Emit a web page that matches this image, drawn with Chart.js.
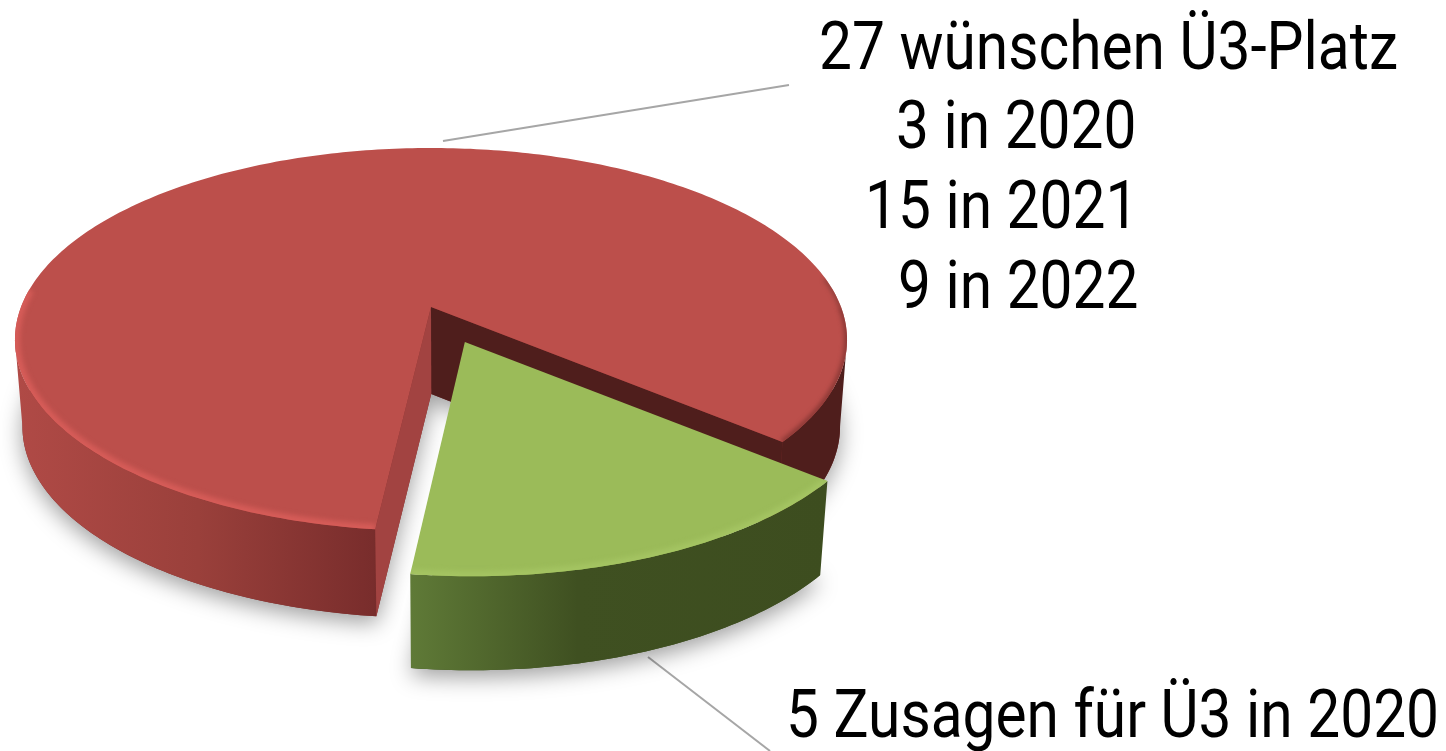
<!DOCTYPE html>
<html>
<head>
<meta charset="utf-8">
<script src="https://cdn.jsdelivr.net/npm/chart.js@4"></script>
<style>
    html, body { margin: 0; background: #fff; overflow: hidden; }
    #wrap { position: relative; width: 1446px; height: 751px; }
    #chart1 { position: absolute; left: 0; top: 0; }
    .lbl {
        position: absolute; white-space: nowrap; color: #000;
        font-family: Roboto, sans-serif; font-size: 67px; line-height: 80px;
        transform: scaleX(0.875); transform-origin: left top;
    }
    #l0 { left: 819px; top: 6px; }
    #l1 { left: 896px; top: 85px; }
    #l2 { left: 865px; top: 165px; }
    #l3 { left: 898px; top: 245px; }
    #l4 { left: 786px; top: 674px; }
</style>
</head>
<body>
<div id="wrap">
    <canvas id="chart1" width="1446" height="751"></canvas>
    <div class="lbl" id="l0"></div>
    <div class="lbl" id="l1"></div>
    <div class="lbl" id="l2"></div>
    <div class="lbl" id="l3"></div>
    <div class="lbl" id="l4"></div>
</div>
<script>
const categories = ['wünschen Ü3-Platz', 'Zusagen für Ü3'];
const values = [27, 5];
const text_lines = ['27 wünschen Ü3-Platz', '3 in 2020', '15 in 2021', '9 in 2022', '5 Zusagen für Ü3 in 2020'];

text_lines.forEach(function (t, i) {
    document.getElementById('l' + i).textContent = t;
});

// perspective of the disc, world radius = 1
const cx = 431, cy = 307, R = 410, S = 186, k = 0.1698;
const vx = 445, conv = 0.0002;
const red_depth = 87, green_depth = 94;
// green slice is pulled out along its middle
const green_off = [0.08, 0.182], green_r = 0.98, green_spread = 0.01;
// rim angle where the projected disc is widest
const side = Math.asin(k);

function proj(x, y) {
    let w = 1 - k * y;
    return [cx + R * x / w, cy + S * y / w];
}
function low(p, d) {
    return [p[0] + (vx - p[0]) * d * conv, p[1] + d];
}
function rim(a0, a1, off, r) {
    let pts = [];
    let n = Math.ceil(Math.abs(a1 - a0) * 60);
    for (let i = 0; i <= n; i++) {
        let a = a0 + (a1 - a0) * i / n;
        pts.push(proj(off[0] + r * Math.cos(a), off[1] + r * Math.sin(a)));
    }
    return pts;
}
function path(ctx, pts) {
    ctx.beginPath();
    pts.forEach(function (p, i) {
        if (i == 0) ctx.moveTo(p[0], p[1]);
        else ctx.lineTo(p[0], p[1]);
    });
}
function fillPts(ctx, pts, color) {
    path(ctx, pts);
    ctx.closePath();
    ctx.fillStyle = color;
    ctx.fill();
}
function wall(ctx, pts, d, color) {
    let bottom = pts.map(function (p) { return low(p, d); }).reverse();
    fillPts(ctx, pts.concat(bottom), color);
}
function bevel(ctx, face, pts, color, width, blur) {
    ctx.save();
    path(ctx, face);
    ctx.closePath();
    ctx.clip();
    ctx.filter = 'blur(' + blur + 'px)';
    path(ctx, pts);
    ctx.strokeStyle = color;
    ctx.lineWidth = width;
    ctx.stroke();
    ctx.restore();
}
function leader(ctx, a, b) {
    path(ctx, [a, b]);
    ctx.strokeStyle = '#a6a6a6';
    ctx.lineWidth = 2;
    ctx.stroke();
}

const pie3d = {
    id: 'pie3d',
    beforeDatasetsDraw: function (chart) {
        const ctx = chart.ctx;
        const arcs = chart.getDatasetMeta(0).data;
        const red = arcs[0], green = arcs[1];
        const o = [0, 0];
        const T = Math.PI * 2;

        const r0 = red.startAngle, r1 = red.endAngle;
        const g0 = green.startAngle - green_spread, g1 = green.endAngle + green_spread;
        // same angle as r1 but below 360
        const r_end = r1 % T;

        const red_rim = rim(r0, r1, o, 1);
        const red_face = [proj(0, 0)].concat(red_rim);
        const green_rim = rim(g0, g1, green_off, green_r);
        const green_apex = proj(green_off[0], green_off[1]);
        const green_face = [green_apex].concat(green_rim);

        ctx.save();
        leader(ctx, [443, 141], [789, 85]);
        leader(ctx, [648, 657], [770, 751]);

        // soft shadow under both slices
        ctx.save();
        ctx.shadowColor = 'rgba(0,0,0,0.38)';
        ctx.shadowBlur = 22;
        ctx.shadowOffsetY = 7;
        fillPts(ctx, red_face.map(function (p) { return low(p, red_depth); }), '#7a2d2c');
        fillPts(ctx, green_face.map(function (p) { return low(p, green_depth); }), '#3e4f20');
        ctx.restore();

        // red outer wall
        let grad = ctx.createLinearGradient(15, 0, 847, 0);
        grad.addColorStop(0, '#b04a46');
        grad.addColorStop(0.22, '#9a403b');
        grad.addColorStop(0.43, '#792d2c');
        grad.addColorStop(0.5, '#4f1e1c');
        grad.addColorStop(1, '#4f1e1c');
        wall(ctx, rim(side, r_end, o, 1), red_depth, grad);
        wall(ctx, rim(r0, Math.PI - side, o, 1), red_depth, grad);

        // red cut faces
        wall(ctx, [proj(0, 0), proj(Math.cos(r1), Math.sin(r1))], red_depth, '#4f1e1c');
        wall(ctx, [proj(0, 0), proj(Math.cos(r0), Math.sin(r0))], red_depth, '#a24341');

        // red top
        fillPts(ctx, red_face, '#bc4f4b');
        bevel(ctx, red_face, rim(r0, Math.PI * 1.03, o, 1), '#d65c58', 10, 2.5);
        bevel(ctx, red_face, rim(Math.PI * 1.95, T, o, 1), '#94403c', 5, 2);
        bevel(ctx, red_face, rim(r_end, 0, o, 1), '#8c3936', 6, 2);

        // green wall and top
        grad = ctx.createLinearGradient(411, 0, 828, 0);
        grad.addColorStop(0, '#5f7a37');
        grad.addColorStop(0.4, '#3f5021');
        grad.addColorStop(1, '#3d4d1f');
        wall(ctx, green_rim, green_depth, grad);
        fillPts(ctx, green_face, '#9bbb59');
        bevel(ctx, green_face, green_rim, '#a4c462', 10, 2.5);
        ctx.restore();
        return false;
    },
};

const data_pie = {
    labels: categories,
    datasets: [{
        data: values,
        backgroundColor: ['#bc4f4b', '#9bbb59'],
        borderWidth: 0,
    }],
};

const config_pie = {
    type: 'pie',
    data: data_pie,
    options: {
        responsive: false,
        animation: false,
        rotation: 186.5,
        plugins: {
            legend: { display: false },
            tooltip: { enabled: false },
        },
    },
    plugins: [pie3d],
};

const ctx_pie = document.getElementById('chart1').getContext('2d');
const pie = new Chart(ctx_pie, config_pie);
</script>
</body>
</html>
